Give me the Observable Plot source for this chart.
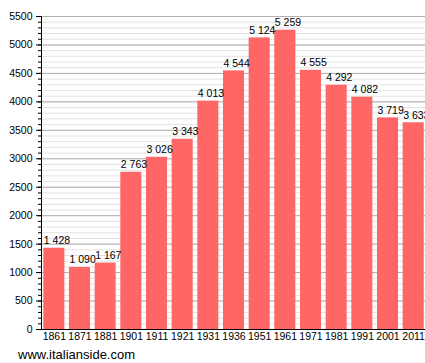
<!DOCTYPE html>
<html>
<head>
<meta charset="utf-8">
<script src="https://cdn.jsdelivr.net/npm/d3@7"></script>
<script src="https://cdn.jsdelivr.net/npm/@observablehq/plot@0.6"></script>
<style>
  html, body { margin: 0; padding: 0; background: white; overflow: hidden; }
  #chart svg { overflow: hidden; display: block; }
  #caption { font-family: "Liberation Sans", Arial, sans-serif; font-size: 13px; line-height: 16px; padding-left: 18px; color: #000; }
</style>
</head>
<body>
<div id="chart"></div>
<div id="caption">www.italianside.com</div>
<script>
const years = ["1861","1871","1881","1901","1911","1921","1931","1936","1951","1961","1971","1981","1991","2001","2011"];
const population = [1428, 1090, 1167, 2763, 3026, 3343, 4013, 4544, 5124, 5259, 4555, 4292, 4082, 3719, 3633];
const majorTicks = d3.range(0, 5501, 500);
const minorTicks = d3.range(0, 5501, 100);

const data = years.map((y, i) => ({year: y, value: population[i]}));
const fmt = v => d3.format(",")(v).replace(/,/g, " ");

const chart = Plot.plot({
  width: 425,
  height: 347,
  marginLeft: 41,
  marginRight: -1,
  marginTop: 16,
  marginBottom: 18,
  style: {fontFamily: "'Liberation Sans', Arial, sans-serif", fontSize: "10px", color: "#000", background: "white", overflow: "hidden"},
  x: {domain: years, paddingInner: 0.18, paddingOuter: 0.09, round: false},
  y: {domain: [0, 5500]},
  marks: [
    Plot.gridY(minorTicks, {stroke: "#e2e2e2", strokeOpacity: 1}),
    Plot.gridY(majorTicks, {stroke: "#b0b0b0", strokeOpacity: 1}),
    Plot.barY(data, {x: "year", y: "value", fill: "#ff6666"}),
    Plot.text(data, {x: "year", y: "value", text: d => fmt(d.value), lineAnchor: "bottom", textAnchor: "start", dy: -4, dx: -10.5, fill: "#000", fontSize: 10.5}),
    Plot.axisX({tickSize: 0, tickPadding: 3, label: null, fontSize: 10.5}),
    Plot.axisY(minorTicks, {tickSize: 3, text: null, label: null, stroke: "#000"}),
    Plot.axisY(majorTicks, {tickSize: 5, tickPadding: 4, label: null, fontSize: 10.5, tickFormat: "d"}),
    Plot.ruleY([0], {stroke: "#000", strokeWidth: 1.2}),
    Plot.frame({anchor: "left", stroke: "#000"})
  ]
});
document.getElementById("chart").append(chart);
</script>
</body>
</html>
